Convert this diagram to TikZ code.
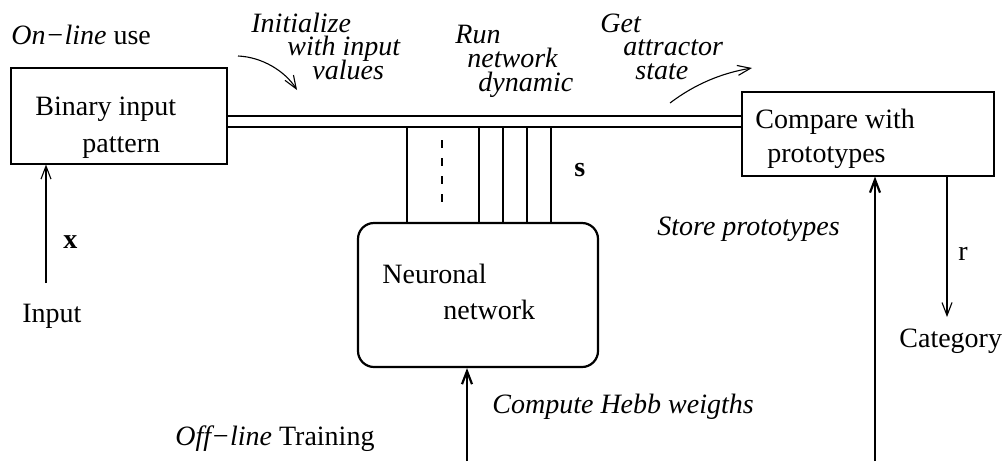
\documentclass[tikz,border=0pt]{standalone}
\usepackage{fontspec}
\setmainfont{Liberation Serif}
\usetikzlibrary{arrows.meta}
\begin{document}
\begin{tikzpicture}[x=0.5pt,y=-0.5pt,
  every node/.style={font=\fontsize{14}{17}\selectfont, inner sep=0pt},
  lbl/.style={anchor=base west},
  thin line/.style={line width=0.55pt},
  thick line/.style={line width=1.1pt},
  arr/.style={-{Straight Barb[length=6.5pt,width=5pt]}},
  boxstyle/.style={draw, thin line},
]
\useasboundingbox (0,0) rectangle (1005,461);

% boxes
\node[boxstyle, minimum width=108pt, minimum height=48pt] (binary) at (119,116) {};
\node[boxstyle, minimum width=126pt, minimum height=42pt] (compare) at (868,134) {};
\node[draw, thick line, rounded corners=8pt, minimum width=120pt, minimum height=72pt] (net) at (478,295) {};

% box texts
\node[lbl] (bt1) at (35,115) {Binary input};
\node[lbl] (bt2) at (82,152) {pattern};
\node[lbl] (ct1) at (755,128) {Compare with};
\node[lbl] (ct2) at (767,162) {prototypes};
\node[lbl] (nt1) at (382,283) {Neuronal};
\node[lbl] (nt2) at (443,319) {network};

% double line bus
\coordinate (bA) at (227,116);
\coordinate (bB) at (227,127);
\draw[thin line] (bA) -- (bA -| compare.west);
\draw[thin line] (bB) -- (bB -| compare.west);

% vertical lines to network
\coordinate (v1) at (407,127);
\coordinate (v3) at (479,127);
\coordinate (v4) at (503,127);
\coordinate (v5) at (527,127);
\coordinate (v6) at (551,127);
\foreach \v in {v1,v3,v4,v5,v6} \draw[thin line] (\v) -- (\v |- net.north);
\coordinate (d1) at (442,140);
\coordinate (d2) at (442,208);
\draw[thin line, dash pattern=on 4pt off 5pt] (d1) -- (d2);
\node[lbl] (s) at (574,176) {\textbf{s}};

% top labels
\node[lbl] (online) at (11,44) {\textit{On−line} use};
\node[lbl] (ini1) at (251,32) {\textit{Initialize}};
\node[lbl] (ini2) at (287,55) {\textit{with input}};
\node[lbl] (ini3) at (312,79) {\textit{values}};
\node[lbl] (run1) at (455,43) {\textit{Run}};
\node[lbl] (run2) at (467,67) {\textit{network}};
\node[lbl] (run3) at (478,91) {\textit{dynamic}};
\node[lbl] (get1) at (600,32) {\textit{Get}};
\node[lbl] (get2) at (623,55) {\textit{attractor}};
\node[lbl] (get3) at (635,79) {\textit{state}};

% curved arrows
\coordinate (ia) at (238,56);
\coordinate (ib) at (297,90);
\draw[thin line, arr] (ia) .. controls (262,57) and (285,71) .. (ib);
\coordinate (ga) at (670,103);
\coordinate (gb) at (752,68);
\draw[thin line, arr] (ga) .. controls (695,84) and (722,73) .. (gb);

% input
\coordinate (inp) at (46,283);
\draw[thin line, arr] (inp) -- (inp |- binary.south);
\node[lbl] (xl) at (63,248) {\textbf{x}};
\node[lbl] (inputl) at (22,322) {Input};

% output r
\coordinate (rs) at (947,176);
\coordinate (re) at (947,317);
\draw[thin line, arr] (rs |- compare.south) -- (re);
\node[lbl] (rl) at (958,260) {r};
\node[lbl] (cat) at (899,347) {Category};

% store prototypes
\coordinate (sp) at (875,461);
\draw[thick line, arr] (sp) -- (sp |- compare.south);
\node[lbl] (spl) at (657,235) {\textit{Store prototypes}};

% compute hebb
\coordinate (ch) at (467,461);
\draw[thick line, arr] (ch) -- (ch |- net.south);
\node[lbl] (chl) at (492,413) {\textit{Compute Hebb weigths}};
\node[lbl] (off) at (175,445) {\textit{Off−line} Training};
\end{tikzpicture}
\end{document}
